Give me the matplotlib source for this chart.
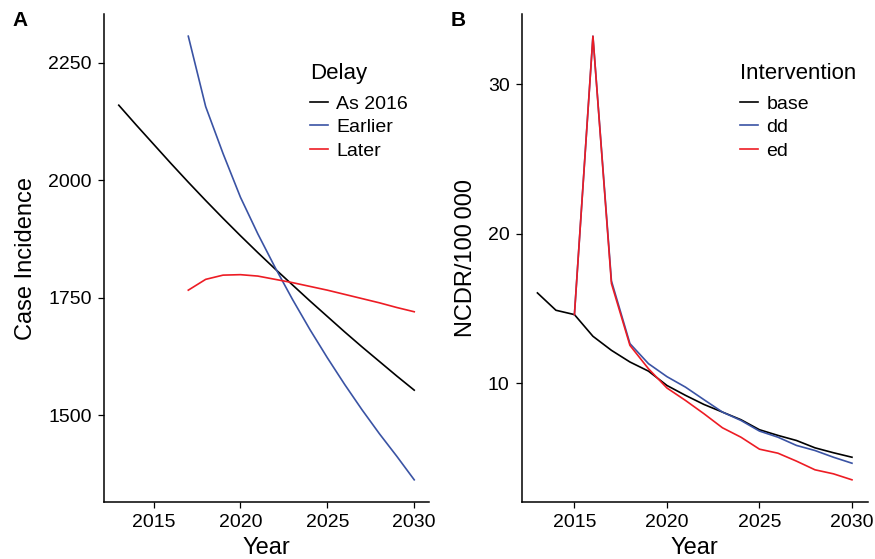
import matplotlib
matplotlib.use("Agg")
import matplotlib.pyplot as plt

plt.rcParams['font.family'] = ['Liberation Sans', 'DejaVu Sans']

# Panel A: case incidence by delay scenario
years_a = list(range(2013, 2031))
as_2016 = [2160, 2118, 2077, 2036, 1996, 1957, 1919, 1882, 1846, 1811,
           1777, 1743, 1710, 1677, 1645, 1614, 1583, 1553]
years_late = list(range(2017, 2031))
earlier = [2307, 2157, 2057, 1964, 1886, 1814, 1746, 1682, 1622, 1565,
           1511, 1460, 1412, 1362]
later = [1766, 1789, 1798, 1799, 1796, 1789, 1782, 1774, 1766, 1757,
         1748, 1739, 1729, 1720]

# Panel B: NCDR per 100 000 by intervention
years_b = list(range(2013, 2031))
base = [16.03, 14.87, 14.58, 13.13, 12.19, 11.41, 10.80, 9.84, 9.18, 8.57,
        8.06, 7.55, 6.88, 6.50, 6.16, 5.67, 5.34, 5.04]
years_int = list(range(2015, 2031))
dd = [14.58, 33.2, 16.83, 12.64, 11.30, 10.43, 9.73, 8.89, 8.06, 7.50,
      6.79, 6.38, 5.83, 5.49, 5.04, 4.64]
ed = [14.58, 33.2, 16.66, 12.52, 10.96, 9.67, 8.84, 7.95, 7.01, 6.38,
      5.58, 5.31, 4.78, 4.20, 3.93, 3.53]

BLACK = "#000000"
BLUE = "#3A53A4"
RED = "#ED1C24"

fig = plt.figure(figsize=(8.75, 5.59), dpi=100)
W, H = 875, 559
axA = fig.add_axes([104 / W, 1 - 502 / H, (429 - 104) / W, (502 - 14) / H])
axB = fig.add_axes([521.7 / W, 1 - 502 / H, (867.7 - 521.7) / W, (502 - 14) / H])


def expand(lo, hi, f=0.05):
    r = hi - lo
    return lo - f * r, hi + f * r


def style(ax):
    for s in ['top', 'right']:
        ax.spines[s].set_visible(False)
    for s in ['left', 'bottom']:
        ax.spines[s].set_linewidth(1.1)
    ax.tick_params(direction='out', length=4.3, width=0.9, labelsize=14, pad=4.5)
    ax.set_xticks([2015, 2020, 2025, 2030])
    ax.set_xlim(*expand(2013, 2030))


def add_legend(ax, title, x0):
    leg = ax.legend(title=title, loc='upper left', bbox_to_anchor=(x0 / W, 1 - 63 / H),
                    bbox_transform=fig.transFigure, frameon=False, fontsize=14,
                    title_fontsize=16, alignment='left', borderpad=0, borderaxespad=0,
                    handlelength=0.95, handletextpad=0.4, labelspacing=0.3)
    # a bit more room between the title and the entries
    leg._legend_box.sep = 8
    return leg


lw = 1.2
axA.plot(years_a, as_2016, color=BLACK, lw=lw, label='As 2016')
axA.plot(years_late, earlier, color=BLUE, lw=lw, label='Earlier')
axA.plot(years_late, later, color=RED, lw=lw, label='Later')
style(axA)
axA.set_ylim(*expand(min(earlier), max(earlier)))
axA.set_yticks([1500, 1750, 2000, 2250])
axA.set_xlabel('Year', fontsize=17, labelpad=4)
axA.set_ylabel('Case Incidence', fontsize=17, labelpad=8)
add_legend(axA, 'Delay', 310)

axB.plot(years_b, base, color=BLACK, lw=lw, label='base')
axB.plot(years_int, dd, color=BLUE, lw=lw, label='dd')
axB.plot(years_int, ed, color=RED, lw=lw, label='ed')
style(axB)
axB.set_ylim(*expand(min(ed), max(ed)))
axB.set_yticks([10, 20, 30])
axB.set_xlabel('Year', fontsize=17, labelpad=4)
axB.set_ylabel('NCDR/100\u2009000', fontsize=17, labelpad=8)
add_legend(axB, 'Intervention', 740)

fig.text(20 / W, 1 - 21 / H, 'A', fontsize=15, fontweight='bold', ha='center', va='center')
fig.text(458 / W, 1 - 21 / H, 'B', fontsize=15, fontweight='bold', ha='center', va='center')

fig.savefig('out.png', dpi=100)
